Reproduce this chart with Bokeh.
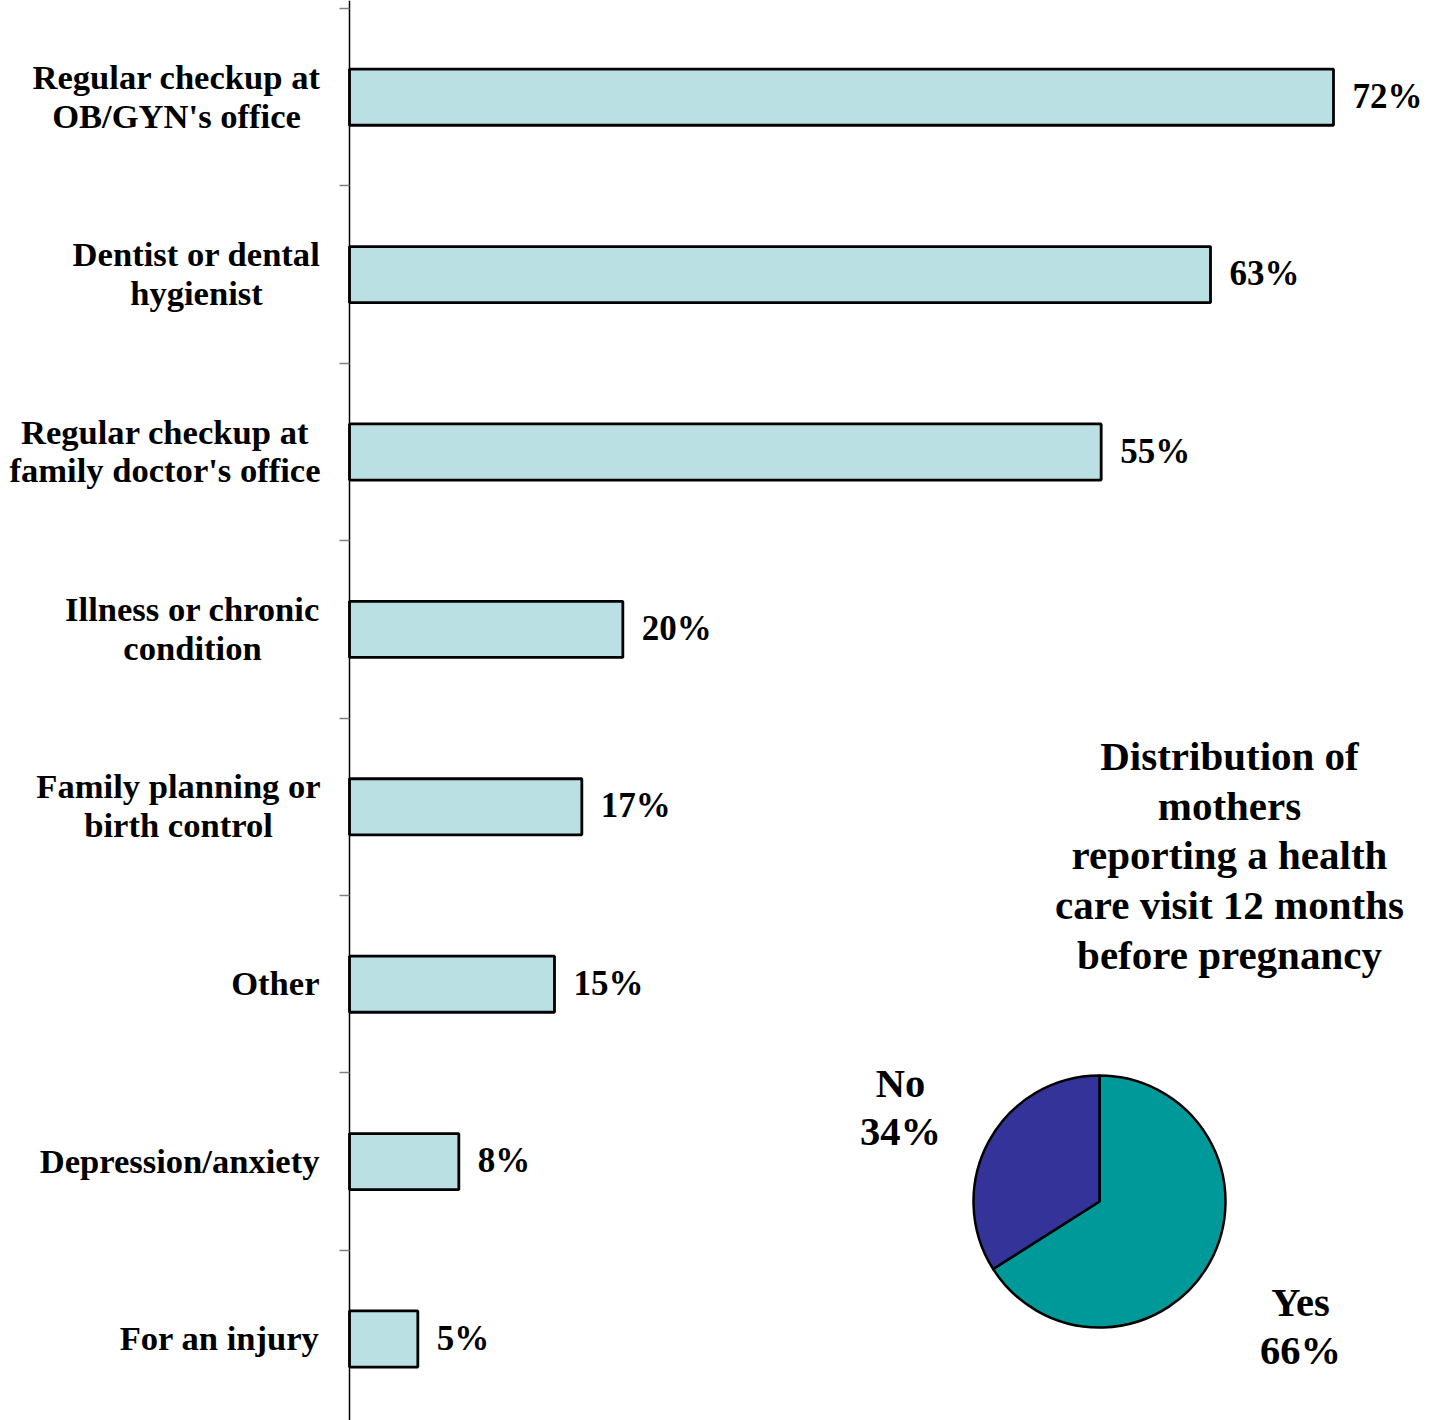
import math
from bokeh.plotting import figure
from bokeh.models import Range1d, LinearAxis, FixedTicker, ColumnDataSource
from bokeh.core.properties import value
from bokeh.embed import file_html
from bokeh.resources import INLINE

# ---- data ----
categories = [
    "Regular checkup at\nOB/GYN's office",
    "Dentist or dental\nhygienist",
    "Regular checkup at\nfamily doctor's office",
    "Illness or chronic\ncondition",
    "Family planning or\nbirth control",
    "Other",
    "Depression/anxiety",
    "For an injury",
]
percents = [72, 63, 55, 20, 17, 15, 8, 5]

pie_labels = ["Yes", "No"]
pie_values = [66, 34]
pie_title = "Distribution of\nmothers\nreporting a health\ncare visit 12 months\nbefore pregnancy"

# ---- layout ----
W, H = 1437, 1420
px_per_unit_x = 984 / 72.0
zero_px = 349
top_px = 8
px_per_cat = 177.4
n = len(categories)

x_start = -zero_px / px_per_unit_x
x_end = (W - zero_px) / px_per_unit_x
y_end = n + top_px / px_per_cat
y_start = y_end - H / px_per_cat

p = figure(width=W, height=H, output_backend="svg", toolbar_location=None,
           x_range=Range1d(x_start, x_end), y_range=Range1d(y_start, y_end),
           x_axis_type=None, y_axis_type=None, min_border=0,
           outline_line_color=None)
p.xgrid.visible = False
p.ygrid.visible = False

FONT = value("Liberation Serif")

ycent = [n - 0.5 - i for i in range(n)]
src = ColumnDataSource(dict(cat=categories, pct=percents, y=ycent,
                            lab=[f"{v}%" for v in percents]))

p.hbar(y="y", left=0, right="pct", height=0.316, source=src,
       fill_color="#BAE0E3", line_color="black", line_width=2.8)

p.text(x="pct", y="y", text="lab", source=src, x_offset=19, y_offset=-1,
       text_font=FONT, text_font_style="bold", text_font_size="35px",
       text_align="left", text_baseline="middle", text_color="black")

# category labels (centered blocks, right edge near the axis)
label_centers_px = [176, 196, 164.5, 192, 178, None, None, None]
for i, (c, cx) in enumerate(zip(categories, label_centers_px)):
    if cx is None:
        p.text(x=[0], y=[ycent[i]], text=[c], x_offset=-30, y_offset=-1,
               text_font=FONT, text_font_style="bold", text_font_size="34.6px",
               text_align="right", text_baseline="middle", text_color="black")
    else:
        p.text(x=[0], y=[ycent[i]], text=[c], x_offset=cx - zero_px, y_offset=-1,
               text_font=FONT, text_font_style="bold", text_font_size="34.6px",
               text_align="center", text_baseline="middle", text_color="black",
               text_line_height=1.02)

# axis at x = 0
ax = LinearAxis(fixed_location=0, ticker=FixedTicker(ticks=list(range(n + 1))),
                major_tick_out=10, major_tick_in=0, minor_tick_line_color=None,
                major_tick_line_color="#808080", major_tick_line_width=1.5,
                axis_line_color="black", axis_line_width=1.5,
                major_label_overrides={i: "" for i in range(n + 1)})
p.add_layout(ax, "left")

# pie
pie_cx = (1099 - zero_px) / px_per_unit_x
pie_cy = n - (1201 - top_px) / px_per_cat
total = sum(pie_values)
yes_frac = pie_values[0] / total
a_top = math.pi / 2
a_split = math.pi / 2 + (1 - yes_frac) * 2 * math.pi
pie_src = ColumnDataSource(dict(
    x=[pie_cx, pie_cx], y=[pie_cy, pie_cy],
    start=[a_split, a_top], end=[a_top + 2 * math.pi, a_split],
    color=["#009999", "#333399"]))
p.wedge(x="x", y="y", radius=126, radius_units="screen", start_angle="start",
        end_angle="end", fill_color="color", line_color="black", line_width=2.5,
        source=pie_src)

# pie labels
p.text(x=[pie_cx], y=[pie_cy], text=[f"{pie_labels[1]}\n{pie_values[1]}%"],
       x_offset=900 - 1099, y_offset=1107 - 1201,
       text_font=FONT, text_font_style="bold", text_font_size="40.5px",
       text_align="center", text_baseline="middle", text_line_height=1.08)
p.text(x=[pie_cx], y=[pie_cy], text=[f"{pie_labels[0]}\n{pie_values[0]}%"],
       x_offset=1300 - 1099, y_offset=1326 - 1201,
       text_font=FONT, text_font_style="bold", text_font_size="40.5px",
       text_align="center", text_baseline="middle", text_line_height=1.08)

# pie title
p.text(x=[pie_cx], y=[pie_cy], text=[pie_title],
       x_offset=1229 - 1099, y_offset=855 - 1201,
       text_font=FONT, text_font_style="bold", text_font_size="41px",
       text_align="center", text_baseline="middle", text_line_height=1.08)

open("out.html", "w").write(file_html(p, INLINE))
